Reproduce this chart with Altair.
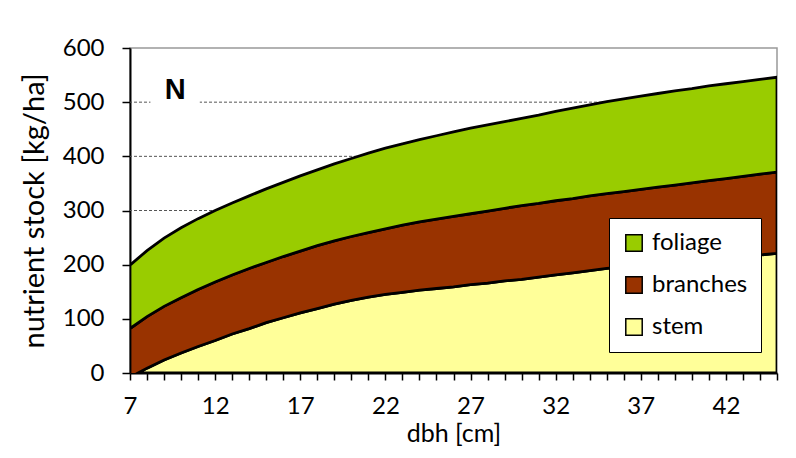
import altair as alt
import pandas as pd

dbh = list(range(7, 46))
# cumulative boundaries (kg/ha)
stem_top = [-8, 9, 24, 37, 49, 60, 72, 82, 93, 102, 111, 119, 127, 134, 140, 145, 149, 153, 156, 159,
            163, 166, 170, 173, 177, 181, 185, 189, 193, 196, 199, 202, 205, 208, 211, 213, 216, 218, 221]
branches_top = [82, 104, 123, 139, 154, 168, 181, 193, 204, 215, 225, 235, 244, 252, 259, 266, 273, 279, 284, 289,
                294, 299, 304, 309, 313, 318, 322, 327, 331, 335, 339, 343, 347, 351, 355, 359, 363, 367, 371]
foliage_top = [199, 226, 249, 268, 285, 300, 314, 327, 340, 352, 364, 375, 386, 396, 406, 415, 423, 431, 438, 445,
               452, 458, 464, 470, 476, 483, 489, 495, 501, 506, 511, 516, 521, 525, 530, 534, 538, 542, 546]
series = ["foliage", "branches", "stem"]
colors = ["#99CC00", "#993300", "#FFFF99"]
grid_values = [100, 200, 300, 400, 500]
x_tick_values = dbh
y_tick_values = [0, 100, 200, 300, 400, 500, 600]

rows = []
for i, d in enumerate(dbh):
    rows.append({"dbh": d, "series": "stem", "lo": 0, "hi": stem_top[i]})
    rows.append({"dbh": d, "series": "branches", "lo": stem_top[i], "hi": branches_top[i]})
    rows.append({"dbh": d, "series": "foliage", "lo": branches_top[i], "hi": foliage_top[i]})
df = pd.DataFrame(rows)

FONT = "Lato"
xscale = alt.Scale(domain=[7, 45], nice=False, zero=False)
yscale = alt.Scale(domain=[0, 600], nice=False)

xaxis = alt.Axis(values=x_tick_values, title="dbh [cm]",
                 labelExpr="(datum.value - 7) % 5 == 0 ? datum.label : ''",
                 labelOverlap=False, labelBound=False, labelFlush=False,
                 tickSize=7, labelPadding=14, titlePadding=3, titleFontSize=25)
yaxis = alt.Axis(values=y_tick_values, title="nutrient stock [kg/ha]",
                 labelOverlap=False,
                 tickSize=8, labelPadding=18, titlePadding=13, titleFontSize=29)

grid = alt.Chart(pd.DataFrame({"v": grid_values})).mark_rule(
    color="#555555", strokeDash=[3, 2], strokeWidth=1
).encode(y=alt.Y("v:Q", scale=yscale, axis=yaxis))

label_df = pd.DataFrame({"x": [9.65], "y": [522], "t": ["N"], "x0": [8.2], "x1": [11.1], "y0": [480], "y1": [565]})
label_bg = alt.Chart(label_df).mark_rect(color="white").encode(
    x=alt.X("x0:Q", scale=xscale, axis=xaxis), x2="x1:Q",
    y=alt.Y("y0:Q", scale=yscale, axis=yaxis), y2="y1:Q"
)
label = alt.Chart(label_df).mark_text(
    font="Liberation Sans", fontWeight="bold", fontSize=29, color="black", baseline="middle", align="center"
).encode(x=alt.X("x:Q", scale=xscale, axis=xaxis), y=alt.Y("y:Q", scale=yscale, axis=yaxis), text="t:N")

areas = alt.Chart(df).mark_area(stroke="black", strokeWidth=2.8, clip=True, interpolate="linear").encode(
    x=alt.X("dbh:Q", scale=xscale, axis=xaxis),
    y=alt.Y("lo:Q", scale=yscale, axis=yaxis),
    y2="hi:Q",
    color=alt.Color("series:N", scale=alt.Scale(domain=series, range=colors),
                    legend=alt.Legend(title=None, orient="none", legendX=479, legendY=170,
                                      symbolType="square", symbolSize=270,
                                      symbolStrokeColor="black", symbolStrokeWidth=1.5,
                                      labelFontSize=24, labelFont=FONT, labelColor="black",
                                      rowPadding=18, padding=13, labelOffset=6,
                                      strokeColor="black", fillColor="white",
                                      labelLimit=250)),
    order=alt.Order("series:N"),
)

chart = alt.layer(grid, label_bg, label, areas).properties(
    width=647, height=325,
    autosize=alt.AutoSizeParams(type="none"),
    padding={"left": 122, "top": 40, "right": 11, "bottom": 85},
).configure_view(stroke="#999999", strokeWidth=1.5).configure_axis(
    labelFont=FONT, titleFont=FONT, labelFontSize=24,
    labelColor="black", titleColor="black", titleFontWeight="normal",
    domainColor="black", domainWidth=2, tickColor="black", tickWidth=1.5, grid=False
)

chart.save("out.html", embed_options={"renderer": "svg", "actions": False})
